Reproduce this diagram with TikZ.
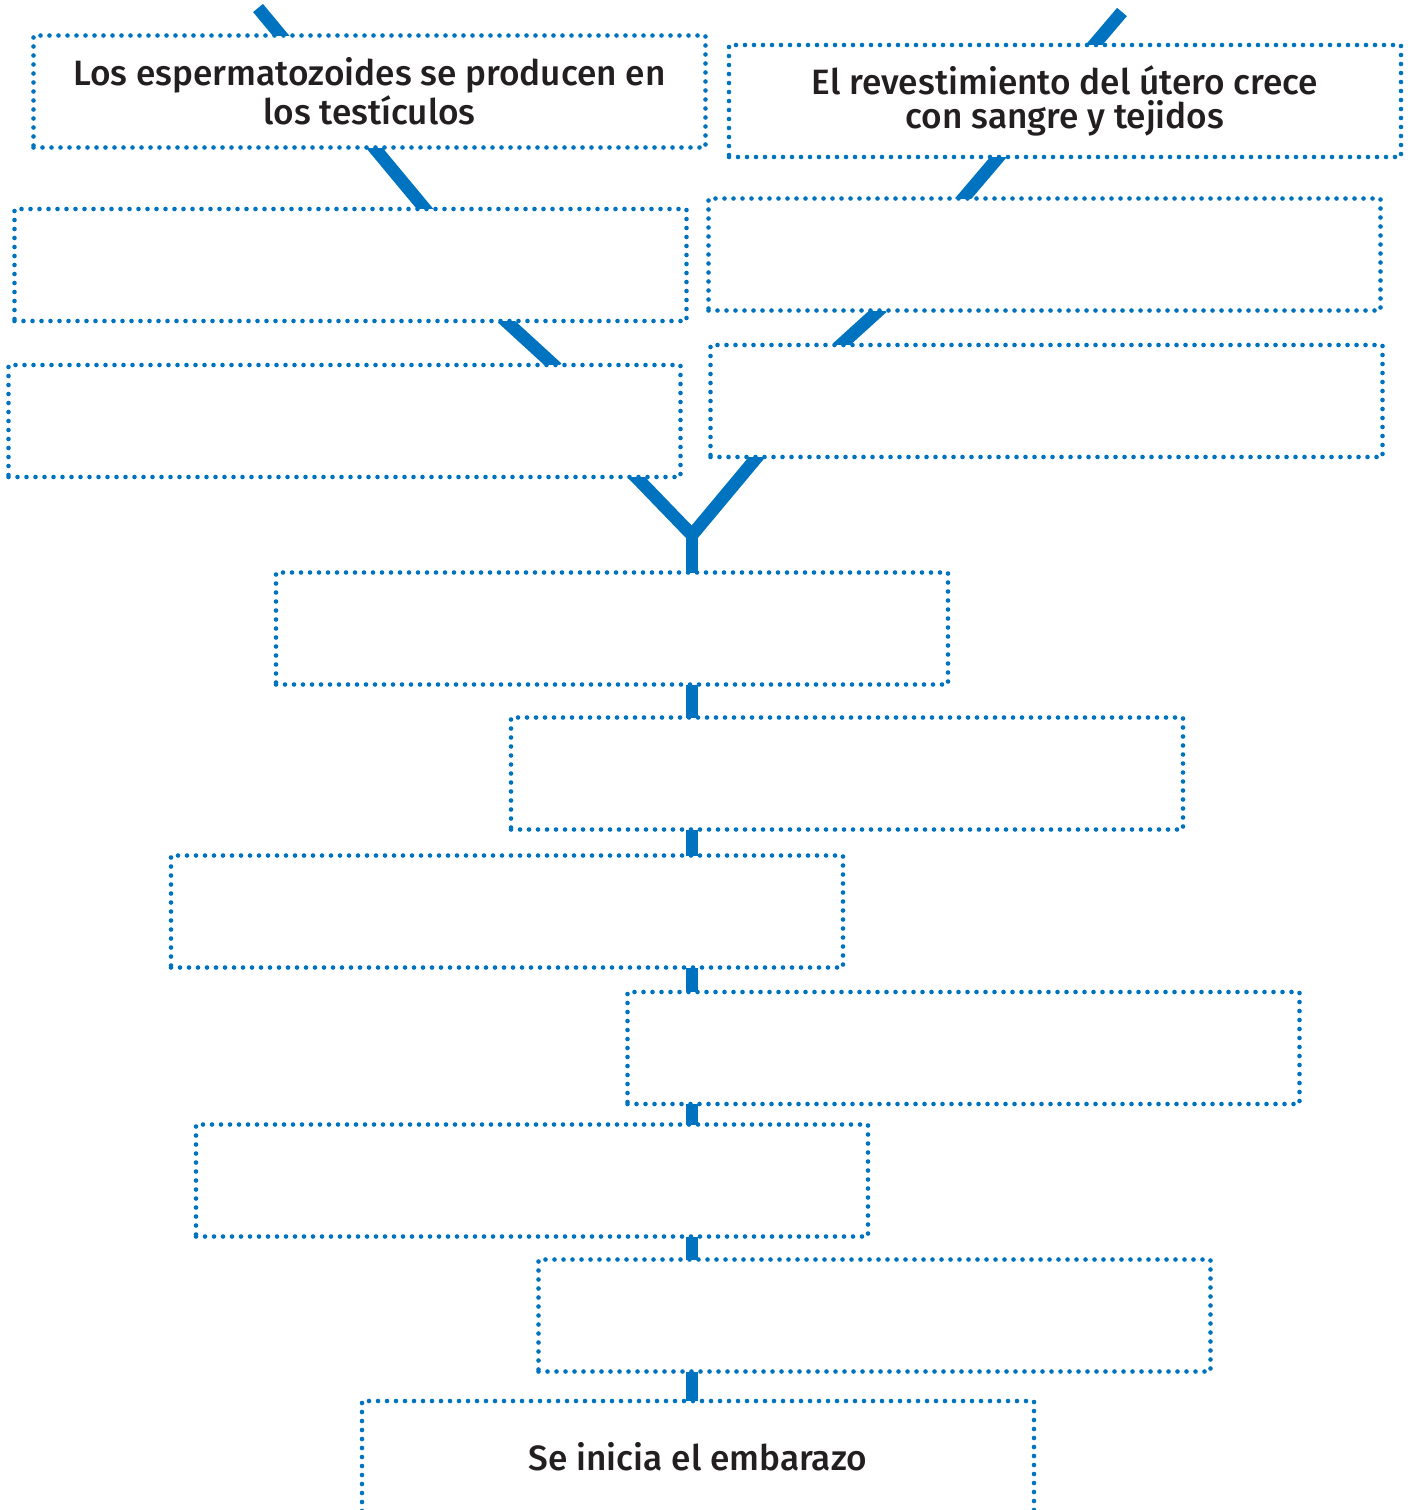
\documentclass[tikz,border=0pt]{standalone}
\usepackage{fontspec}
\setmainfont{Fira Sans}[UprightFont=* Medium]
\usetikzlibrary{calc,backgrounds}
\definecolor{ciclo}{RGB}{0,115,192}
\definecolor{texto}{RGB}{35,31,32}

\begin{document}
\begin{tikzpicture}[x=0.5pt, y=-0.5pt,
    paso/.style={draw=ciclo, fill=white, line width=2.3pt, dash pattern=on 0pt off 4.5pt,
        line cap=round, minimum width=336pt, minimum height=56pt, inner sep=0pt,
        align=center, text=texto, font=\fontsize{17.6}{16.8}\selectfont},
    enlace/.style={draw=ciclo, line width=6.4pt, shorten >=-4pt, shorten <=-4pt}]
    \useasboundingbox (0,0) rectangle (1410,1510);

    % Nodes {l1..l3, r1..r3, c1..c7}
    \node [paso] (l1) at (369.5,91.5)  {Los espermatozoides se producen en\\los testículos};
    \node [paso] (r1) at (1065,101)    {El revestimiento del útero crece\\con sangre y tejidos};
    \node [paso] (l2) at (350.5,265)   {};
    \node [paso] (r2) at (1044.5,254.5) {};
    \node [paso] (l3) at (344.5,421)   {};
    \node [paso] (r3) at (1046.5,401)  {};
    \node [paso] (c1) at (612,628.5)   {};
    \node [paso] (c2) at (847,773.5)   {};
    \node [paso] (c3) at (507,911.5)   {};
    \node [paso] (c4) at (963.5,1048)  {};
    \node [paso] (c5) at (532,1180.5)  {};
    \node [paso] (c6) at (874.5,1315.5) {};
    \node [paso] (c7) at (698,1457)    {Se inicia el embarazo};

    \coordinate (ini izq) at (258,8);
    \coordinate (ini der) at (1122,12);
    \coordinate (union)   at (692,535);

    % Paths
    \begin{scope}[on background layer]
        \draw [enlace, shorten <=0pt] (ini izq) -- ($(l2.north west)+(411,0)$);
        \draw [enlace] ($(l2.south west)+(496,0)$) -- ($(l3.north west)+(545,0)$);
        \draw [enlace] ($(l3.south west)+(632,0)$) -- (union) -- ($(r3.south west)+(47,0)$);
        \draw [enlace, shorten <=0pt] (ini der) -- ($(r2.north west)+(259,0)$);
        \draw [enlace] ($(r2.south west)+(170,0)$) -- ($(r3.north west)+(135,0)$);
        \draw [enlace] (union) -- (union |- c7.north);
    \end{scope}
\end{tikzpicture}
\end{document}
